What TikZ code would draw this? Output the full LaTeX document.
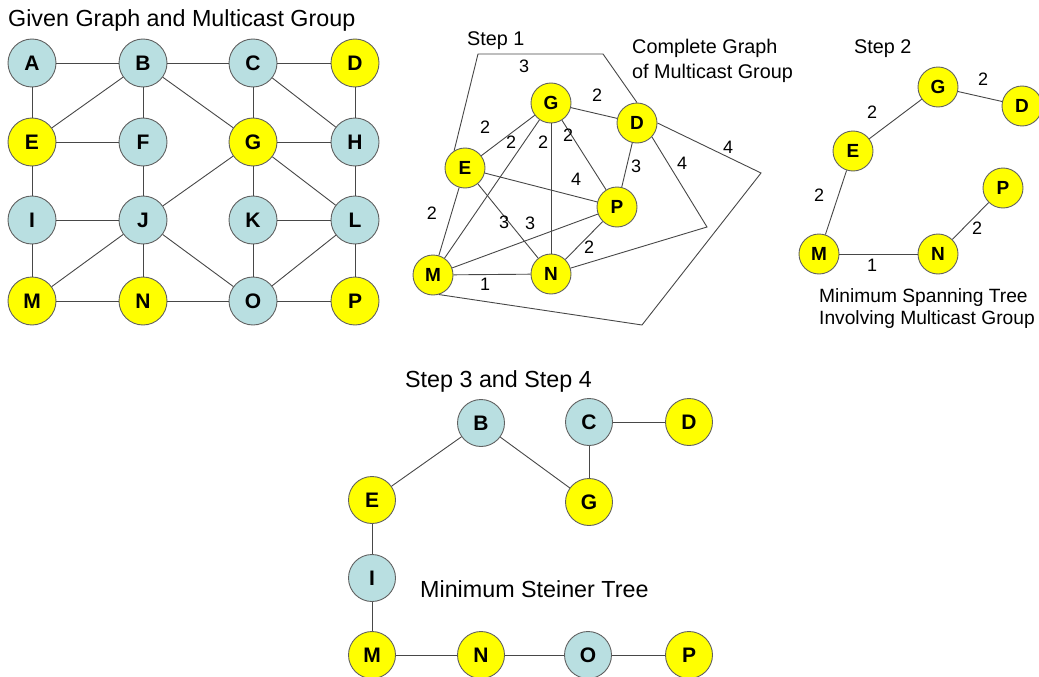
\documentclass[tikz,border=0pt]{standalone}
\usepackage{fontspec}
\setmainfont{Liberation Sans}
\definecolor{lb}{RGB}{185,223,225}
\definecolor{yl}{RGB}{255,255,0}
\newcommand\myfs[1]{\fontsize{#1}{#1}\selectfont}
\tikzset{
  edge/.style={draw=black!72, line width=0.9pt},
  nbase/.style={circle, draw=black!62, line width=0.9pt, inner sep=0pt, text=black},
  bignode/.style={nbase, minimum size=48pt, font=\bfseries\myfs{21}},
  botnode/.style={nbase, minimum size=47pt, font=\bfseries\myfs{21}},
  smallnode/.style={nbase, minimum size=40pt, font=\bfseries\myfs{19}},
  blue/.style={fill=lb},
  yel/.style={fill=yl},
  lab/.style={inner sep=0pt, font=\myfs{18}},
  bigtitle/.style={anchor=base west, inner sep=0pt, font=\myfs{23.3}},
  midtitle/.style={anchor=base west, inner sep=0pt, font=\myfs{19.8}},
  sidetitle/.style={anchor=base west, inner sep=0pt, font=\myfs{19.2}},
}
\begin{document}
\begin{tikzpicture}[x=1pt,y=-1pt]
\useasboundingbox (0,0) rectangle (1039,677);

% ---------- Given graph ----------
\node[bigtitle] (t0) at (8,27) {Given Graph and Multicast Group};
\node[bignode,blue] (gA) at (32,63) {A};
\node[bignode,blue] (gB) at (143,63) {B};
\node[bignode,blue] (gC) at (253,63) {C};
\node[bignode,yel]  (gD) at (355,63) {D};
\node[bignode,yel]  (gE) at (32,142) {E};
\node[bignode,blue] (gF) at (143,142) {F};
\node[bignode,yel]  (gG) at (253,142) {G};
\node[bignode,blue] (gH) at (355,142) {H};
\node[bignode,blue] (gI) at (32,220) {I};
\node[bignode,blue] (gJ) at (143,220) {J};
\node[bignode,blue] (gK) at (253,220) {K};
\node[bignode,blue] (gL) at (355,220) {L};
\node[bignode,yel]  (gM) at (32,301) {M};
\node[bignode,yel]  (gN) at (143,301) {N};
\node[bignode,blue] (gO) at (253,301) {O};
\node[bignode,yel]  (gP) at (355,301) {P};
\foreach \a/\b in {A/B,B/C,C/D,A/E,B/E,B/F,B/G,C/G,C/H,D/H,E/F,E/I,F/J,G/J,G/H,G/K,G/L,H/L,I/J,I/M,J/M,J/N,J/O,K/L,K/O,L/O,L/P,M/N,N/O,O/P}
  \draw[edge] (g\a) -- (g\b);

% ---------- Step 1 ----------
\node[midtitle] (t1) at (467,46) {Step 1};
\node[midtitle] (t2) at (632,54) {Complete Graph};
\node[midtitle] (t3) at (632,78) {of Multicast Group};
\node[smallnode,yel] (sG) at (551,103) {G};
\node[smallnode,yel] (sD) at (637,123) {D};
\node[smallnode,yel] (sE) at (465,168) {E};
\node[smallnode,yel] (sP) at (617,207) {P};
\node[smallnode,yel] (sM) at (433,275) {M};
\node[smallnode,yel] (sN) at (551,274) {N};
\foreach \a/\b in {E/G,G/D,G/M,G/N,G/P,E/P,E/M,E/N,M/P,M/N,N/P,D/P}
  \draw[edge] (s\a) -- (s\b);
\draw[edge] (sE.122) -- (478,54) -- (603,54) -- (sD.north);
\draw[edge] (sD.-43) -- (707,227) -- (sN);
\draw[edge] (sD.east) -- (761,173) -- (642,325) -- (sM.-73);
\node[lab] (l1) at (524,66) {3};
\node[lab] (l2) at (597,95) {2};
\node[lab] (l3) at (485,127) {2};
\node[lab] (l4) at (511,142) {2};
\node[lab] (l5) at (543,142) {2};
\node[lab] (l6) at (568,135) {2};
\node[lab] (l7) at (636,166) {3};
\node[lab] (l8) at (576,179) {4};
\node[lab] (l9) at (432,213) {2};
\node[lab] (l10) at (504,222) {3};
\node[lab] (l11) at (530,223) {3};
\node[lab] (l12) at (589,247) {2};
\node[lab] (l13) at (485,284) {1};
\node[lab] (l14) at (682,163) {4};
\node[lab] (l15) at (728,147) {4};

% ---------- Step 2 ----------
\node[midtitle] (t4) at (854,54) {Step 2};
\node[smallnode,yel] (mG) at (938,87) {G};
\node[smallnode,yel] (mD) at (1022,106) {D};
\node[smallnode,yel] (mE) at (853,151) {E};
\node[smallnode,yel] (mP) at (1003,188) {P};
\node[smallnode,yel] (mM) at (819,254) {M};
\node[smallnode,yel] (mN) at (938,254) {N};
\foreach \a/\b in {G/D,E/G,E/M,M/N,N/P}
  \draw[edge] (m\a) -- (m\b);
\node[lab] (k1) at (983,79) {2};
\node[lab] (k2) at (872,112) {2};
\node[lab] (k3) at (819,195) {2};
\node[lab] (k4) at (872,265) {1};
\node[lab] (k5) at (977,228) {2};
\node[sidetitle] (t5) at (819,302) {Minimum Spanning Tree};
\node[sidetitle] (t6) at (819,324) {Involving Multicast Group};

% ---------- Step 3 and 4 ----------
\node[bigtitle] (t7) at (405,387) {Step 3 and Step 4};
\node[botnode,blue] (bB) at (481,423) {B};
\node[botnode,blue] (bC) at (589,422) {C};
\node[botnode,yel]  (bD) at (689,422) {D};
\node[botnode,yel]  (bE) at (372,500) {E};
\node[botnode,yel]  (bG) at (589,502) {G};
\node[botnode,blue] (bI) at (372,578) {I};
\node[botnode,yel]  (bM) at (372,655) {M};
\node[botnode,yel]  (bN) at (481,655) {N};
\node[botnode,blue] (bO) at (588,655) {O};
\node[botnode,yel]  (bP) at (689,655) {P};
\foreach \a/\b in {E/B,B/G,C/G,C/D,E/I,I/M,M/N,N/O,O/P}
  \draw[edge] (b\a) -- (b\b);
\node[bigtitle] (t8) at (420,597) {Minimum Steiner Tree};
\end{tikzpicture}
\end{document}
